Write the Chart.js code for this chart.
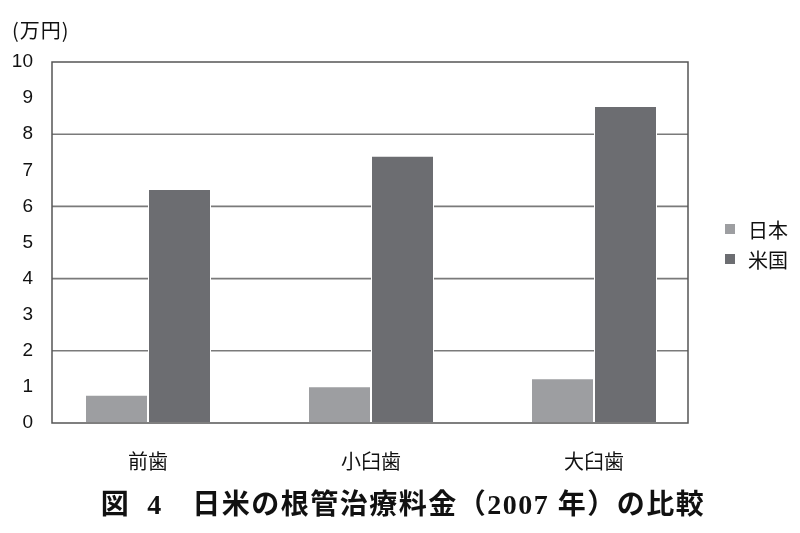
<!DOCTYPE html>
<html>
<head>
<meta charset="utf-8">
<script src="https://cdn.jsdelivr.net/npm/chart.js@4.4.1/dist/chart.umd.min.js"></script>
<style>
  html, body { margin: 0; padding: 0; background: #ffffff; }
  #wrap { position: relative; width: 800px; height: 533px; }
  canvas { display: block; }
  #unit { position: absolute; left: 12px; top: 17px; font: 20px "Noto Sans CJK JP", "Liberation Sans", sans-serif; letter-spacing: 1px; color: #111; line-height: 26px; }
  #legend { position: absolute; left: 725px; top: 214px; font: 20px "Noto Sans CJK JP", sans-serif; color: #111; }
  .li { display: flex; align-items: center; height: 30px; }
  .sw { width: 10px; height: 10px; margin-right: 13px; }
  #title { position: absolute; left: 0; width: 806px; top: 482px; height: 38px; line-height: 38px; text-align: center; white-space: pre;
           font: bold 28px "Liberation Serif", "Noto Sans CJK JP", serif; letter-spacing: 1.5px; color: #111; }
</style>
</head>
<body>
<div id="wrap">
  <canvas id="c" width="800" height="533"></canvas>
  <div id="unit">(万円)</div>
  <div id="legend"></div>
  <div id="title"></div>
</div>
<script>
const categories = ['前歯', '小臼歯', '大臼歯'];
const seriesNames = ['日本', '米国'];
const japanValues = [0.78, 1.02, 1.24];
const usValues = [6.48, 7.40, 8.78];
const yTicks = [0, 1, 2, 3, 4, 5, 6, 7, 8, 9, 10];
const gridValues = [2, 4, 6, 8];
const colors = ['#9d9ea1', '#6c6d71'];
const titleText = '図  4\u3000日米の根管治療料金（2007 年）の比較';

// frame of the plot box (decoration, in canvas px)
const FRAME_LEFT = 52, FRAME_RIGHT = 688;

const framePlugin = {
  id: 'frame',
  beforeDatasetsDraw(chart) {
    const ctx = chart.ctx, y = chart.scales.y;
    ctx.save();
    ctx.strokeStyle = '#7a7a7a';
    ctx.lineWidth = 1.6;
    gridValues.forEach(v => {
      const py = y.getPixelForValue(v);
      ctx.beginPath();
      ctx.moveTo(FRAME_LEFT, py);
      ctx.lineTo(FRAME_RIGHT, py);
      ctx.stroke();
    });
    ctx.restore();
  },
  afterDatasetsDraw(chart) {
    const ctx = chart.ctx, y = chart.scales.y;
    const top = y.getPixelForValue(yTicks[yTicks.length - 1]);
    const bottom = y.getPixelForValue(yTicks[0]);
    ctx.save();
    ctx.strokeStyle = '#555555';
    ctx.lineWidth = 1.5;
    ctx.strokeRect(FRAME_LEFT, top, FRAME_RIGHT - FRAME_LEFT, bottom - top);
    ctx.restore();
  }
};

const chart = new Chart(document.getElementById('c'), {
  type: 'bar',
  data: {
    labels: categories,
    datasets: [
      { label: seriesNames[0], data: japanValues, backgroundColor: colors[0], borderColor: '#ffffff', borderWidth: 1, borderSkipped: false },
      { label: seriesNames[1], data: usValues, backgroundColor: colors[1], borderColor: '#ffffff', borderWidth: 1, borderSkipped: false }
    ]
  },
  options: {
    responsive: false,
    animation: false,
    events: [],
    layout: { padding: { left: 12, right: 94.5, top: 62, bottom: 60 } },
    datasets: { bar: { categoryPercentage: 0.565, barPercentage: 1.0 } },
    scales: {
      x: {
        grid: { display: false, drawTicks: false },
        border: { display: false },
        afterFit(scale) { scale.height = 50; },
        ticks: { color: '#111', padding: 26, font: { family: '"Noto Sans CJK JP", sans-serif', size: 20 } }
      },
      y: {
        min: 0, max: 10,
        afterBuildTicks(scale) { scale.ticks = yTicks.map(v => ({ value: v })); },
        afterFit(scale) { scale.width = 24.5; },
        grid: { display: false, drawTicks: false },
        border: { display: false },
        ticks: { color: '#111', padding: 3.5, font: { family: '"Liberation Sans", Arial, sans-serif', size: 19 } }
      }
    },
    plugins: {
      legend: { display: false },
      tooltip: { enabled: false },
      title: { display: false }
    }
  },
  plugins: [framePlugin]
});

document.getElementById('title').textContent = titleText;
const legend = document.getElementById('legend');
chart.data.datasets.forEach(ds => {
  const row = document.createElement('div');
  row.className = 'li';
  const sw = document.createElement('span');
  sw.className = 'sw';
  sw.style.background = ds.backgroundColor;
  const tx = document.createElement('span');
  tx.textContent = ds.label;
  row.appendChild(sw); row.appendChild(tx);
  legend.appendChild(row);
});
</script>
</body>
</html>
